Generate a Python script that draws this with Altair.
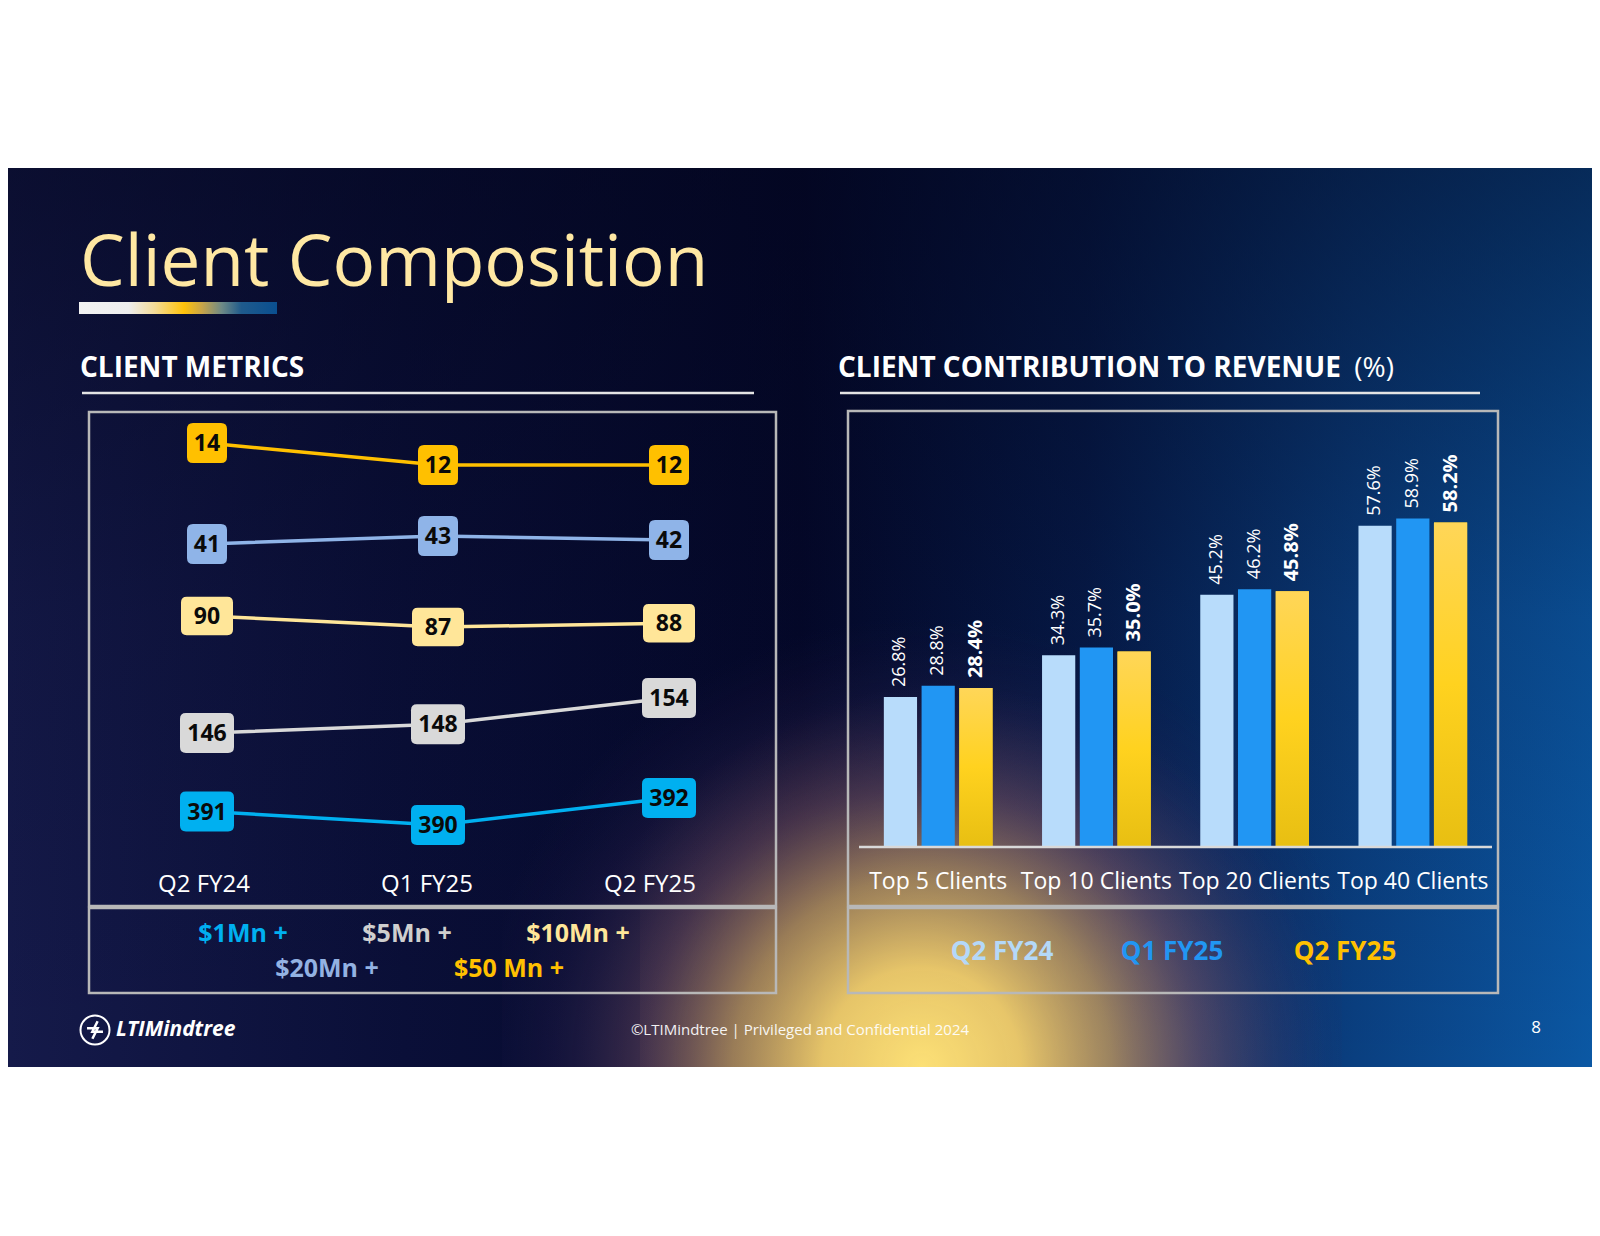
import altair as alt
import pandas as pd

# ---------------- data ----------------
periods = ["Q2 FY24", "Q1 FY25", "Q2 FY25"]

clients_1mn = [391, 390, 392]
clients_5mn = [146, 148, 154]
clients_10mn = [90, 87, 88]
clients_20mn = [41, 43, 42]
clients_50mn = [14, 12, 12]

categories = ["Top 5 Clients", "Top 10 Clients", "Top 20 Clients", "Top 40 Clients"]
rev_q2fy24 = [26.8, 34.3, 45.2, 57.6]
rev_q1fy25 = [28.8, 35.7, 46.2, 58.9]
rev_q2fy25 = [28.4, 35.0, 45.8, 58.2]

# ---------------- layout helpers ----------------
W, H = 1584, 1212
OFF = 8


def px(v):
    return v - OFF


FONT = "Open Sans"
one = pd.DataFrame({"k": [0]})


def text(t, x, y, size, color, weight="normal", align="left", baseline="alphabetic", style="normal", opacity=1):
    return alt.Chart(one).mark_text(
        text=t, font=FONT, fontSize=size, color=color, fontWeight=weight,
        align=align, baseline=baseline, fontStyle=style, opacity=opacity,
    ).encode(x=alt.value(x), y=alt.value(y))


def rect(x, x2, y, y2, **kw):
    return alt.Chart(one).mark_rect(**kw).encode(
        x=alt.value(x), x2=alt.value(x2), y=alt.value(y), y2=alt.value(y2))


def rule(x, x2, y, color, width):
    return alt.Chart(one).mark_rule(color=color, strokeWidth=width).encode(
        x=alt.value(x), x2=alt.value(x2), y=alt.value(y))


def stops(pairs):
    return [{"offset": o, "color": c} for o, c in pairs]


# ---------------- background ----------------
base_grad = {"gradient": "linear", "x1": 0, "y1": 0, "x2": 1, "y2": 0,
             "stops": stops([(0, "#151a4a"), (0.25, "#0a0f38"), (0.5, "#04082a"),
                             (0.68, "#061b4a"), (0.85, "#0a3f80"), (1, "#0b58a4")])}
top_dark = {"gradient": "linear", "x1": 0, "y1": 0, "x2": 0, "y2": 1,
            "stops": stops([(0, "rgba(3,5,28,0.55)"), (0.5, "rgba(3,5,28,0.15)"), (1, "rgba(3,5,28,0)")])}
glow = {"gradient": "radial", "x1": 0.5, "y1": 1, "r1": 0, "x2": 0.5, "y2": 1, "r2": 0.5,
        "stops": stops([(0, "rgba(252,224,118,1)"), (0.22, "rgba(244,208,108,0.93)"),
                        (0.42, "rgba(208,168,102,0.68)"), (0.62, "rgba(140,96,112,0.4)"),
                        (0.82, "rgba(76,54,102,0.16)"), (1, "rgba(40,30,80,0)")])}
haze = {"gradient": "radial", "x1": 0.45, "y1": 1, "r1": 0, "x2": 0.45, "y2": 1, "r2": 0.5,
        "stops": stops([(0, "rgba(235,195,110,0.25)"), (0.5, "rgba(170,125,105,0.2)"),
                        (0.85, "rgba(110,80,100,0)"), (1, "rgba(110,80,100,0)")])}
title_bar = {"gradient": "linear", "x1": 0, "y1": 0, "x2": 1, "y2": 0,
             "stops": stops([(0, "#f2f2f2"), (0.25, "#eeeeee"), (0.38, "#f3dc9a"), (0.53, "#ffc20a"),
                             (0.62, "#c9a548"), (0.72, "#6f8a86"), (0.82, "#1f5a8c"), (1, "#0a4f90")])}
gold_grad = {"gradient": "linear", "x1": 0, "y1": 0, "x2": 0, "y2": 1,
             "stops": stops([(0, "#ffd658"), (0.5, "#ffd21f"), (1, "#e8bf12")])}

layers = [
    rect(0, W, px(168), px(1067), fill=base_grad),
    rect(0, W, px(168), px(1067), fill=top_dark),
    rect(px(640), px(1340), px(168), px(1067), fill=haze),
    rect(px(922 - 420), px(922 + 420), px(168), px(1067), fill=glow),
    # title
    text("Client Composition", px(80), px(286), 71, "#ffe8a3"),
    rect(px(79), px(277), px(302), px(314), fill=title_bar),
    # section headers
    text("CLIENT METRICS", px(80), px(377), 28, "white", weight="bold"),
    rule(px(82), px(754), px(393), "#e4e4e4", 2.5),
    text("CLIENT CONTRIBUTION TO REVENUE", px(838), px(377), 28, "white", weight="bold"),
    text("(%)", px(1394), px(377), 28, "white", align="right"),
    rule(px(840), px(1480), px(393), "#e4e4e4", 2.5),
    # panel boxes
    rect(px(89), px(776), px(412), px(906), fillOpacity=0, stroke="#b8b8b8", strokeWidth=2.5),
    rect(px(89), px(776), px(908), px(993), fillOpacity=0, stroke="#b8b8b8", strokeWidth=2.5),
    rect(px(848), px(1498), px(411), px(906), fillOpacity=0, stroke="#b8b8b8", strokeWidth=2.5),
    rect(px(848), px(1498), px(908), px(993), fillOpacity=0, stroke="#b8b8b8", strokeWidth=2.5),
]

# ---------------- left: client metrics ----------------
SQ = ("M -0.7 -1 L 0.7 -1 Q 1 -1 1 -0.7 L 1 0.7 Q 1 1 0.7 1 L -0.7 1 "
      "Q -1 1 -1 0.7 L -1 -0.7 Q -1 -1 -0.7 -1 Z")
WIDE = ("M -0.78 -0.74 L 0.78 -0.74 Q 1 -0.74 1 -0.52 L 1 0.52 Q 1 0.74 0.78 0.74 "
        "L -0.78 0.74 Q -1 0.74 -1 0.52 L -1 -0.52 Q -1 -0.74 -0.78 -0.74 Z")

series = [
    # values, colour, y-domain, y-range (pixels), box shape, box size
    (clients_50mn, "#ffc000", [12, 14], [px(465), px(443)], SQ, 40 ** 2),
    (clients_20mn, "#8fb4e8", [41, 43], [px(544), px(536)], SQ, 40 ** 2),
    (clients_10mn, "#ffe699", [87, 90], [px(627), px(616)], WIDE, 52 ** 2),
    (clients_5mn, "#d9d9d9", [146, 154], [px(733), px(698)], WIDE, 54 ** 2),
    (clients_1mn, "#00b0f0", [390, 392], [px(825), px(798)], WIDE, 54 ** 2),
]

for vals, color, dom, rng, shape, size in series:
    df = pd.DataFrame({"period": periods, "value": vals})
    base = alt.Chart(df).encode(
        x=alt.X("period:N", sort=periods, axis=None,
                scale=alt.Scale(type="point", domain=periods, range=[px(207), px(669)], padding=0)),
        y=alt.Y("value:Q", axis=None,
                scale=alt.Scale(domain=dom, range=rng, zero=False, nice=False)),
    )
    layers.append(base.mark_line(color=color, strokeWidth=3.5))
    layers.append(base.mark_point(shape=shape, size=size, filled=True, fill=color,
                                  opacity=1, strokeWidth=0))
    layers.append(base.mark_text(font=FONT, fontWeight="bold", fontSize=23, color="#0a0a0a",
                                 baseline="middle", dy=1).encode(text="value:Q"))

# period labels of the left panel
layers.append(
    alt.Chart(pd.DataFrame({"period": periods})).mark_text(
        font=FONT, fontSize=24, color="white", baseline="middle"
    ).encode(
        x=alt.X("period:N", sort=periods, axis=None,
                scale=alt.Scale(type="point", domain=periods, range=[px(204), px(650)], padding=0)),
        y=alt.value(px(885)),
        text="period:N",
    )
)

# legend of the left panel
layers += [
    text("$1Mn +", px(243), px(934), 25, "#00b0f0", weight="bold", align="center", baseline="middle"),
    text("$5Mn +", px(407), px(934), 25, "#cfcfcf", weight="bold", align="center", baseline="middle"),
    text("$10Mn +", px(578), px(934), 25, "#ffe699", weight="bold", align="center", baseline="middle"),
    text("$20Mn +", px(327), px(969), 25, "#93b2e2", weight="bold", align="center", baseline="middle"),
    text("$50 Mn +", px(509), px(969), 25, "#ffc000", weight="bold", align="center", baseline="middle"),
]

# ---------------- right: revenue contribution ----------------
rev = pd.DataFrame({
    "category": categories * 3,
    "period": [periods[0]] * 4 + [periods[1]] * 4 + [periods[2]] * 4,
    "value": rev_q2fy24 + rev_q1fy25 + rev_q2fy25,
})

xcat = alt.X("category:N", sort=categories, axis=None,
             scale=alt.Scale(type="band", domain=categories, range=[px(859), px(1492)],
                             paddingInner=0.313, paddingOuter=0.157))
xoff = alt.XOffset("period:N", sort=periods,
                   scale=alt.Scale(type="band", domain=periods, paddingInner=0.12, paddingOuter=0))
yval = alt.Y("value:Q", axis=None,
             scale=alt.Scale(domain=[0, 100], range=[px(846), px(846) - 556], zero=True, nice=False))

bar_base = alt.Chart(rev).encode(x=xcat, xOffset=xoff, y=yval)

layers.append(
    bar_base.mark_bar().encode(
        color=alt.Color("period:N", legend=None,
                        scale=alt.Scale(domain=periods, range=["#b8dcfb", "#2196f3", "#ffd21f"]))
    )
)
layers.append(
    bar_base.transform_filter(alt.datum.period == periods[2]).mark_bar(fill=gold_grad)
)
layers.append(rule(px(859), px(1492), px(847), "#d9d9d9", 2.5))

lab = bar_base.transform_calculate(label="format(datum.value, '.1f') + '%'")
layers.append(
    lab.transform_filter(alt.datum.period != periods[2]).mark_text(
        font=FONT, fontSize=18, color="white", angle=270, align="left", baseline="middle", dx=10
    ).encode(text="label:N")
)
layers.append(
    lab.transform_filter(alt.datum.period == periods[2]).mark_text(
        font=FONT, fontSize=20, fontWeight="bold", color="white", angle=270, align="left",
        baseline="middle", dx=10
    ).encode(text="label:N")
)

layers.append(
    alt.Chart(pd.DataFrame({"category": categories})).mark_text(
        font=FONT, fontSize=23, color="white", baseline="middle"
    ).encode(x=xcat, y=alt.value(px(882)), text="category:N")
)

layers += [
    text("Q2 FY24", px(1002), px(952), 26, "#b4d8f8", weight="bold", align="center", baseline="middle"),
    text("Q1 FY25", px(1172), px(952), 26, "#2196f3", weight="bold", align="center", baseline="middle"),
    text("Q2 FY25", px(1345), px(952), 26, "#ffc000", weight="bold", align="center", baseline="middle"),
]

# ---------------- footer ----------------
LOGO = "M -0.55 -0.12 L 0.18 -0.12 L -0.18 0.6 M 0.55 0.12 L -0.18 0.12 L 0.18 -0.6"
layers += [
    alt.Chart(one).mark_point(shape="circle", size=29 ** 2, filled=False, stroke="white",
                              strokeWidth=2, opacity=1).encode(x=alt.value(px(95)), y=alt.value(px(1030))),
    alt.Chart(one).mark_point(shape=LOGO, size=29 ** 2, filled=False, stroke="white",
                              strokeWidth=2.5, opacity=1).encode(x=alt.value(px(95)), y=alt.value(px(1030))),
    text("LTIMindtree", px(116), px(1030), 21, "white", weight="bold", style="italic", baseline="middle"),
    text("\u00a9LTIMindtree | Privileged and Confidential 2024", px(800), px(1030), 15, "white",
         align="center", baseline="middle", opacity=0.92),
    text("8", px(1536), px(1028), 17, "white", align="center", baseline="middle"),
]

chart = alt.layer(*layers).resolve_scale(
    x="independent", y="independent", color="independent", xOffset="independent"
).properties(
    width=W, height=H, autosize=alt.AutoSizeParams(type="none"),
    padding={"left": 0, "top": 0, "right": 0, "bottom": 0}, background="white",
).configure_view(strokeWidth=0)

chart.save("out.html", embed_options={"renderer": "svg", "actions": False})
